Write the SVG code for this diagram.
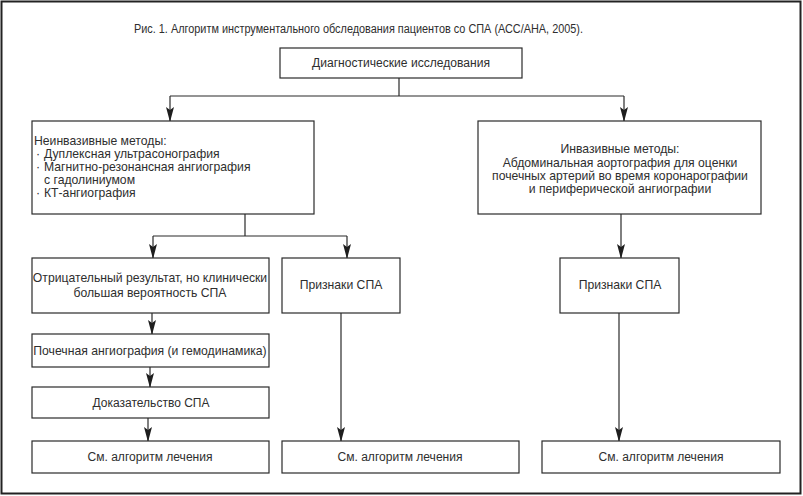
<svg xmlns="http://www.w3.org/2000/svg" width="803" height="496" viewBox="0 0 803 496">
<style>
.box{fill:#fff;stroke:#2a2a2a;stroke-width:1.2}
.t{font-family:"Liberation Sans",Arial,sans-serif;font-size:12.2px;fill:#2e2e2e}
.c{font-family:"Liberation Sans",Arial,sans-serif;font-size:12px;fill:#2e2e2e}
.mid{text-anchor:middle}
.ln{fill:none;stroke:#2a2a2a;stroke-width:1.2}
</style>
<defs>
<marker id="ah" viewBox="0 0 15 8" refX="14" refY="4" markerWidth="15" markerHeight="8" markerUnits="userSpaceOnUse" orient="auto">
<path d="M0,0 L15,4 L0,8 L3,4 z" fill="#1e1e1e"/>
</marker>
</defs>
<rect x="0" y="0" width="803" height="496" fill="#fff"/>
<rect x="1.5" y="1.5" width="799" height="492" fill="none" stroke="#222" stroke-width="2"/>
<text class="c" x="134" y="33" textLength="449" lengthAdjust="spacingAndGlyphs" font-size="11">Рис. 1. Алгоритм инструментального обследования пациентов со СПА (АСС/АНА, 2005).</text>

<g id="connectors">
<path class="ln" d="M399,78 V96 M170,96 H624"/>
<path class="ln" d="M170,96 V121" marker-end="url(#ah)"/>
<path class="ln" d="M624,96 V121" marker-end="url(#ah)"/>
<path class="ln" d="M245,214 V236 M153,236 H347"/>
<path class="ln" d="M153,236 V258" marker-end="url(#ah)"/>
<path class="ln" d="M347,236 V258" marker-end="url(#ah)"/>
<path class="ln" d="M621,214 V258" marker-end="url(#ah)"/>
<path class="ln" d="M152,313 V334" marker-end="url(#ah)"/>
<path class="ln" d="M150,367 V387" marker-end="url(#ah)"/>
<path class="ln" d="M148,418 V441" marker-end="url(#ah)"/>
<path class="ln" d="M341,313 V441" marker-end="url(#ah)"/>
<path class="ln" d="M619,313 V441" marker-end="url(#ah)"/>
</g>

<g id="n-diag">
<rect class="box" x="280" y="48" width="242" height="30"/>
<text class="c mid" x="401" y="67" textLength="178" lengthAdjust="spacingAndGlyphs">Диагностические исследования</text>
</g>

<g id="n-noninv">
<rect class="box" x="32" y="121" width="282" height="93"/>
<text class="t" x="34" y="145">Неинвазивные методы:</text>
<text class="t" x="36" y="158">·</text><text class="t" x="44" y="158">Дуплексная ультрасонография</text>
<text class="t" x="36" y="171">·</text><text class="t" x="44" y="171">Магнитно-резонансная ангиография</text>
<text class="t" x="44" y="184">с гадолиниумом</text>
<text class="t" x="36" y="197">·</text><text class="t" x="44" y="197">КТ-ангиография</text>
</g>

<g id="n-inv">
<rect class="box" x="478" y="121" width="283" height="93"/>
<text class="t mid" x="620" y="153">Инвазивные методы:</text>
<text class="t mid" x="620" y="167">Абдоминальная аортография для оценки</text>
<text class="t mid" x="620" y="180">почечных артерий во время коронарографии</text>
<text class="t mid" x="620" y="193">и периферической ангиографии</text>
</g>

<g id="n-neg">
<rect class="box" x="32" y="258" width="237" height="55"/>
<text class="t mid" x="150" y="282">Отрицательный результат, но клинически</text>
<text class="t mid" x="150" y="297">большая вероятность СПА</text>
</g>

<g id="n-sign1">
<rect class="box" x="282" y="258" width="118" height="55"/>
<text class="t mid" x="341" y="289">Признаки СПА</text>
</g>

<g id="n-sign2">
<rect class="box" x="560" y="258" width="119" height="55"/>
<text class="t mid" x="620" y="289">Признаки СПА</text>
</g>

<g id="n-angio">
<rect class="box" x="32" y="334" width="237" height="33"/>
<text class="t mid" x="150" y="355">Почечная ангиография (и гемодинамика)</text>
</g>

<g id="n-proof">
<rect class="box" x="32" y="387" width="237" height="31"/>
<text class="c mid" x="151" y="407" textLength="117" lengthAdjust="spacingAndGlyphs">Доказательство СПА</text>
</g>

<g id="n-treat1">
<rect class="box" x="32" y="441" width="237" height="32"/>
<text class="c mid" x="150" y="461" textLength="125" lengthAdjust="spacingAndGlyphs">См. алгоритм лечения</text>
</g>

<g id="n-treat2">
<rect class="box" x="282" y="441" width="237" height="32"/>
<text class="c mid" x="400" y="461" textLength="125" lengthAdjust="spacingAndGlyphs">См. алгоритм лечения</text>
</g>

<g id="n-treat3">
<rect class="box" x="542" y="441" width="238" height="32"/>
<text class="c mid" x="661" y="461" textLength="125" lengthAdjust="spacingAndGlyphs">См. алгоритм лечения</text>
</g>
</svg>
